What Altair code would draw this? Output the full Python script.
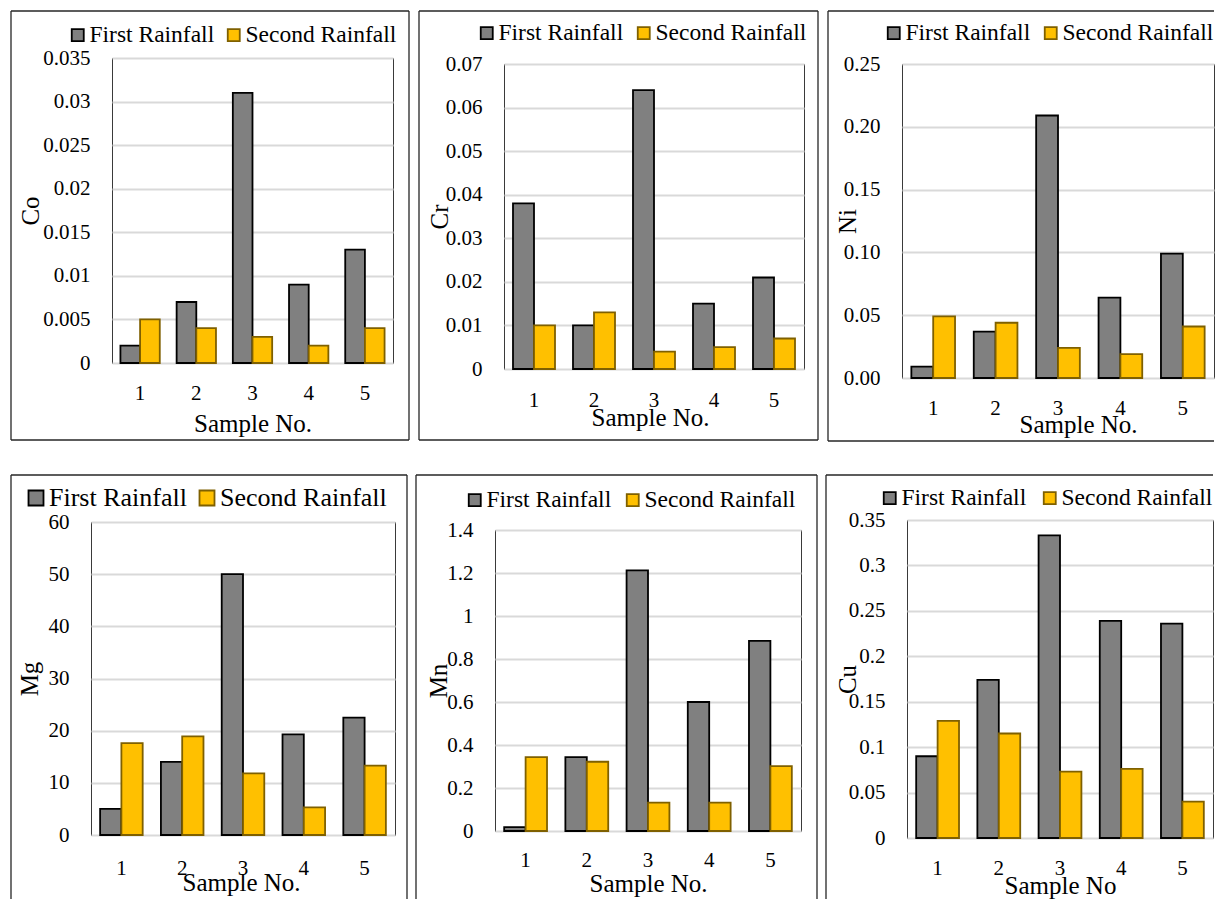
import altair as alt
import pandas as pd

samples = ["1", "2", "3", "4", "5"]
series_names = ["First Rainfall", "Second Rainfall"]

co_first = [0.002, 0.007, 0.031, 0.009, 0.013]
co_second = [0.005, 0.004, 0.003, 0.002, 0.004]
cr_first = [0.038, 0.010, 0.064, 0.015, 0.021]
cr_second = [0.010, 0.013, 0.004, 0.005, 0.007]
ni_first = [0.009, 0.037, 0.209, 0.064, 0.099]
ni_second = [0.049, 0.044, 0.024, 0.019, 0.041]
mg_first = [5.0, 14.0, 50.0, 19.3, 22.5]
mg_second = [17.6, 18.9, 11.8, 5.3, 13.3]
mn_first = [0.018, 0.344, 1.212, 0.600, 0.884]
mn_second = [0.344, 0.322, 0.132, 0.132, 0.302]
cu_first = [0.090, 0.174, 0.333, 0.239, 0.236]
cu_second = [0.129, 0.115, 0.073, 0.076, 0.040]

co_ticks = [0, 0.005, 0.01, 0.015, 0.02, 0.025, 0.03, 0.035]
cr_ticks = [0, 0.01, 0.02, 0.03, 0.04, 0.05, 0.06, 0.07]
ni_ticks = [0, 0.05, 0.10, 0.15, 0.20, 0.25]
mg_ticks = [0, 10, 20, 30, 40, 50, 60]
mn_ticks = [0, 0.2, 0.4, 0.6, 0.8, 1.0, 1.2, 1.4]
cu_ticks = [0, 0.05, 0.1, 0.15, 0.2, 0.25, 0.3, 0.35]

FONT = "Liberation Serif"
FRAME_COLOR = "#262626"
RES = dict(x="independent", y="independent", xOffset="independent",
           fill="independent", stroke="independent")


def frame_layers(W, H, L, T, R, B, edges):
    left, right, top, bottom = -L, W + R, -T, H + B
    seg = {
        "top": (left, right, top, top),
        "bottom": (left, right, bottom, bottom),
        "left": (left, left, top, bottom),
        "right": (right, right, top, bottom),
    }
    layers = []
    for e in edges:
        x1, x2, y1, y2 = seg[e]
        layers.append(
            alt.Chart(alt.Data(values=[{}]))
            .mark_rule(color=FRAME_COLOR, strokeWidth=1.3)
            .encode(x=alt.value(x1), x2=alt.value(x2), y=alt.value(y1), y2=alt.value(y2))
        )
    return layers


def spacer():
    return (
        alt.Chart(alt.Data(values=[{}]))
        .mark_rect(opacity=0)
        .encode(x=alt.value(0), x2=alt.value(1), y=alt.value(0), y2=alt.value(1))
        .properties(width=1, height=1,
                    view=alt.ViewBackground(strokeOpacity=0, strokeWidth=0))
    )


def panel(name, first, second, ymax, ticks, fmt, W, H, frame, edges,
          leg_x, leg_y, col_pad, sym_size, leg_fs, ytitle_x, xlab_pad,
          xtitle_y, xtitle_dx, xtitle_text):
    df = pd.DataFrame({
        "sample": samples * 2,
        "series": [series_names[0]] * 5 + [series_names[1]] * 5,
        "value": first + second,
    })
    legend_kw = dict(
        orient="none", legendX=leg_x, legendY=leg_y, direction="horizontal",
        title=None, symbolType="square", symbolSize=sym_size, symbolStrokeWidth=1.8,
        symbolOffset=7, labelFontSize=leg_fs, labelFont=FONT, labelColor="black",
        labelOffset=0, columnPadding=col_pad, padding=0, labelLimit=300,
    )
    bars = alt.Chart(df).mark_bar(strokeWidth=1.8).encode(
        x=alt.X(
            "sample:N", sort=samples,
            scale=alt.Scale(paddingInner=0.3, paddingOuter=0.15),
            axis=alt.Axis(
                title=xtitle_text, labelAngle=0, ticks=False, tickSize=0, domain=False,
                grid=False, labelPadding=xlab_pad, labelFontSize=21,
                titleFontSize=25, titleFontWeight="normal", titleY=xtitle_y,
                titleX=W / 2 + xtitle_dx, titleBaseline="alphabetic", titleAlign="center",
            ),
        ),
        xOffset=alt.XOffset("series:N", sort=series_names),
        y=alt.Y(
            "value:Q",
            scale=alt.Scale(domain=[0, ymax], nice=False, zero=True),
            axis=alt.Axis(
                title=name, values=ticks, format=fmt, ticks=False, tickSize=0,
                domain=False, grid=True, gridColor="#d9d9d9", gridWidth=2,
                labelPadding=22, labelFontSize=21, titleFontSize=25,
                titleFontWeight="normal", titleAngle=270, titleX=ytitle_x,
                titleY=H / 2, titleAlign="center", titleBaseline="alphabetic",
            ),
        ),
        fill=alt.Fill(
            "series:N",
            scale=alt.Scale(domain=series_names, range=["#808080", "#FFC000"]),
            legend=alt.Legend(**legend_kw),
        ),
        stroke=alt.Stroke(
            "series:N",
            scale=alt.Scale(domain=series_names, range=["#000000", "#7F6000"]),
            legend=alt.Legend(**legend_kw),
        ),
    )
    L, T, R, B = frame
    layered = alt.layer(bars, *frame_layers(W, H, L, T, R, B, edges)).properties(width=W, height=H)
    # a tiny invisible spacer on top so that frame tops (not plot tops) line up in a row
    return alt.vconcat(spacer(), layered, spacing=0).resolve_scale(**RES)


p1 = panel("Co", co_first, co_second, 0.035, co_ticks, "~g", 281, 305,
           (101, 47, 16, 77), ["top", "bottom", "left", "right"],
           -53, -35, 0, 144, 23.5, -74, 19, 68, 0, "Sample No.")
p2 = panel("Cr", cr_first, cr_second, 0.07, cr_ticks, "~g", 300, 305,
           (85, 53, 14, 71), ["top", "bottom", "left", "right"],
           -36, -43, 1, 144, 23.5, -57, 20, 56, -4, "Sample No.")
p3 = panel("Ni", ni_first, ni_second, 0.25, ni_ticks, ".2f", 312, 314,
           (74, 53, 0, 63), ["top", "bottom", "left"],
           -27, -43, 1, 144, 23.5, -47, 19, 54, 20, "Sample No.")
p4 = panel("Mg", mg_first, mg_second, 60, mg_ticks, "d", 304, 313,
           (80, 47, 12, 64), ["top", "left", "right"],
           -75, -37, 0, 225, 26, -54, 22, 55, -2, "Sample No.")
p5 = panel("Mn", mn_first, mn_second, 1.4, mn_ticks, "~g", 306, 301,
           (79, 55, 16, 68), ["top", "left", "right"],
           -39, -42, 2, 144, 23.5, -49, 18, 60, 0, "Sample No.")
p6 = panel("Cu", cu_first, cu_second, 0.35, cu_ticks, "~g", 306, 318,
           (81, 45, 0, 61), ["top", "left"],
           -36, -34, 4, 144, 23.5, -52, 19, 55, 0, "Sample No")

row1_inner = alt.hconcat(p1, p2, p3, spacing=6).resolve_scale(**RES)
row2_inner = alt.hconcat(p4, p5, p6, spacing=5).resolve_scale(**RES)
# a leading invisible spacer so that frame left edges (not plot left edges) line up
row1 = alt.hconcat(spacer(), row1_inner, spacing=0).resolve_scale(**RES)
row2 = alt.hconcat(spacer(), row2_inner, spacing=0).resolve_scale(**RES)

chart = (
    alt.vconcat(row1, row2, spacing=29)
    .resolve_scale(**RES)
    .properties(padding={"left": 0, "top": 0, "right": 0, "bottom": 0})
    .configure(font=FONT)
    .configure_view(stroke="#3a3a3a", strokeWidth=1)
    .configure_axis(labelFont=FONT, titleFont=FONT, labelColor="black", titleColor="black")
    .configure_legend(labelFont=FONT)
)

chart.save("out.html", embed_options={"renderer": "svg", "actions": False})
